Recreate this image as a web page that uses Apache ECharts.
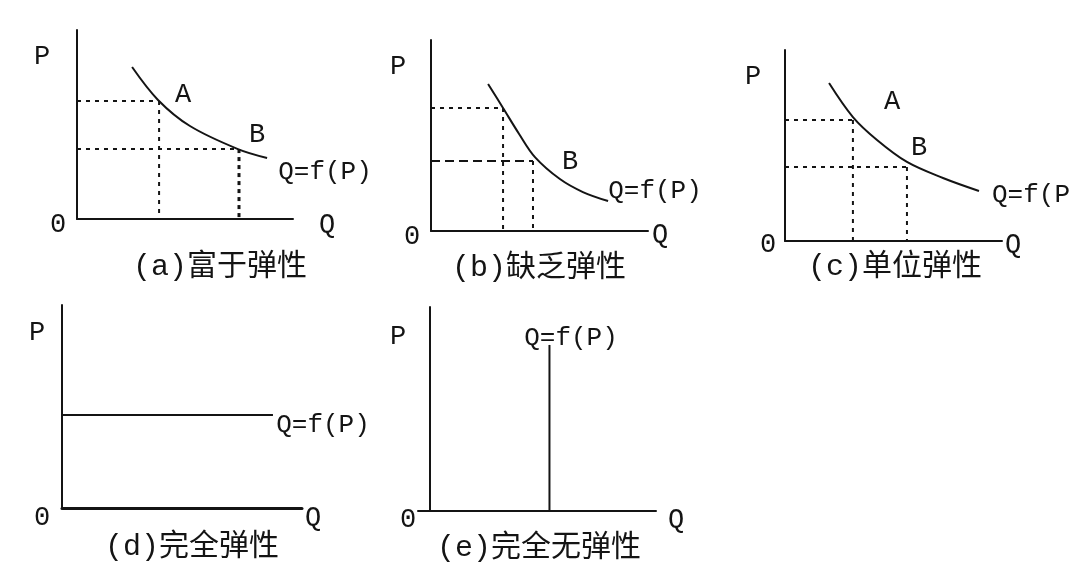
<!DOCTYPE html>
<html>
<head>
<meta charset="utf-8">
<script src="https://cdn.jsdelivr.net/npm/echarts@6/dist/echarts.min.js"></script>
<style>
  html, body { margin: 0; padding: 0; background: #fff; }
  #main { width: 1088px; height: 580px; }
</style>
</head>
<body>
<div id="main"></div>
<script>
// panel (a) 富于弹性
const curveA = [[2.55, 8.04], [3.75, 6.3], [5.23, 4.92], [7.45, 3.7], [8.8, 3.23]];
const pointsA = { A: [3.8, 6.24], B: [7.5, 3.7] };
// panel (b) 缺乏弹性
const curveB = [[2.63, 7.7], [3.32, 6.44], [4.06, 5.08], [4.79, 3.87], [5.94, 2.72], [7.0, 2.04], [8.16, 1.57]];
const pointsB = { A: [3.32, 6.44], B: [4.7, 3.66] };
// panel (c) 单位弹性
const curveC = [[2.03, 8.27], [3.13, 6.49], [4.24, 5.29], [5.62, 4.14], [7.28, 3.3], [8.94, 2.62]];
const pointsC = { A: [3.13, 6.33], B: [5.62, 3.87] };
// panel (d) 完全弹性: horizontal demand
const lineD = [[0, 4.58], [8.79, 4.58]];
// panel (e) 完全无弹性: vertical demand
const lineE = [[5.3, 0], [5.3, 8.14]];

const captions = ['(a)富于弹性', '(b)缺乏弹性', '(c)单位弹性', '(d)完全弹性', '(e)完全无弹性'];

const INK = '#141414';
const LATIN = '"Liberation Mono", "DejaVu Sans Mono", monospace';

const grids = [
  { left: 77, top: 30, width: 216, height: 189 },
  { left: 431, top: 40, width: 217, height: 191 },
  { left: 785, top: 50, width: 217, height: 191 },
  { left: 62, top: 305, width: 240, height: 203 },
  { left: 418, top: 307, width: 238, height: 204 },
];

const axisBase = (i, lw) => ({
  type: 'value',
  gridIndex: i,
  min: 0,
  max: 10,
  axisLine: { show: true, onZero: true, lineStyle: { color: INK, width: lw || 2 } },
  axisTick: { show: false },
  axisLabel: { show: false },
  splitLine: { show: false },
});

const xAxes = grids.map((g, i) => axisBase(i, i === 3 ? 3 : 2));
xAxes[4].min = -0.5;
const yAxes = grids.map((g, i) => axisBase(i));

const solid = (i, data, smooth) => ({
  type: 'line',
  xAxisIndex: i,
  yAxisIndex: i,
  data: data,
  smooth: smooth || false,
  symbol: 'none',
  silent: true,
  lineStyle: { color: INK, width: 2 },
});

const dashed = (i, data, dash, width) => ({
  type: 'line',
  xAxisIndex: i,
  yAxisIndex: i,
  data: data,
  symbol: 'none',
  silent: true,
  lineStyle: { color: INK, width: width || 2, type: dash || [4, 5] },
});

const hSeg = (p) => [[0, p[1]], p];
const vSeg = (p) => [p, [p[0], 0]];

const series = [
  solid(0, curveA, 0.35),
  dashed(0, hSeg(pointsA.A)), dashed(0, vSeg(pointsA.A)),
  dashed(0, hSeg(pointsA.B)), dashed(0, vSeg(pointsA.B), [4, 4], 3),
  solid(1, curveB, 0.35),
  dashed(1, hSeg(pointsB.A)), dashed(1, vSeg(pointsB.A)),
  dashed(1, hSeg(pointsB.B), [9, 5]), dashed(1, vSeg(pointsB.B)),
  solid(2, curveC, 0.35),
  dashed(2, hSeg(pointsC.A)), dashed(2, vSeg(pointsC.A)),
  dashed(2, hSeg(pointsC.B)), dashed(2, vSeg(pointsC.B)),
  solid(3, lineD),
  solid(4, lineE),
];

const text = (x, y, str, size, align) => ({
  type: 'text',
  silent: true,
  style: {
    text: str,
    x: x,
    y: y,
    font: size + 'px ' + LATIN + ', "Noto Sans CJK SC"',
    fill: INK,
    align: align || 'center',
    textAlign: align || 'center',
    verticalAlign: 'middle',
    textVerticalAlign: 'middle',
  },
});

const labels = [
  // (a)
  text(42, 57, 'P', 27), text(58, 225, '0', 27), text(327, 225, 'Q', 27),
  text(183, 95, 'A', 27), text(257, 135, 'B', 27), text(325, 172, 'Q=f(P)', 26),
  // (b)
  text(398, 67, 'P', 27), text(412, 237, '0', 27), text(660, 235, 'Q', 27),
  text(570, 162, 'B', 27), text(655, 191, 'Q=f(P)', 26),
  // (c)
  text(753, 77, 'P', 27), text(768, 245, '0', 27), text(1013, 245, 'Q', 27),
  text(892, 102, 'A', 27), text(919, 148, 'B', 27), text(992, 195, 'Q=f(P', 26, 'left'),
  // (d)
  text(37, 333, 'P', 27), text(42, 518, '0', 27), text(313, 518, 'Q', 27),
  text(323, 425, 'Q=f(P)', 26),
  // (e)
  text(398, 337, 'P', 27), text(408, 520, '0', 27), text(676, 520, 'Q', 27),
  text(571, 338, 'Q=f(P)', 26),
  // captions
  text(220, 267, captions[0], 30), text(539, 268, captions[1], 30),
  text(895, 267, captions[2], 30), text(192, 547, captions[3], 30),
  text(539, 548, captions[4], 30),
];

const myChart = echarts.init(document.getElementById('main'));
myChart.setOption({
  backgroundColor: '#fff',
  animation: false,
  grid: grids,
  xAxis: xAxes,
  yAxis: yAxes,
  series: series,
  graphic: labels,
});
</script>
</body>
</html>
